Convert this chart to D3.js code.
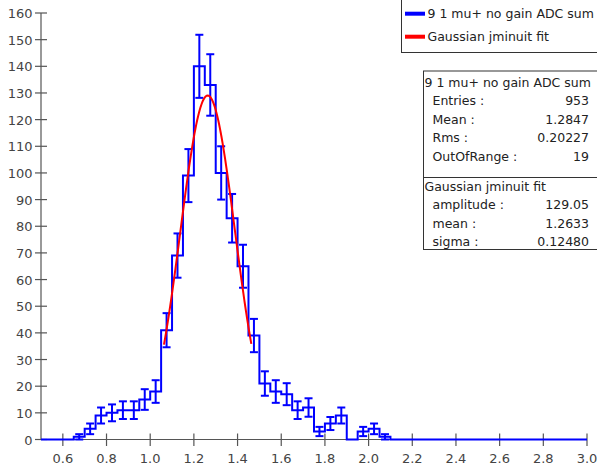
<!DOCTYPE html>
<html>
<head>
<meta charset="utf-8">
<script src="https://cdn.jsdelivr.net/npm/d3@7"></script>
<style>
  body { margin: 0; background: #fff; }
  svg { display: block; font-family: "DejaVu Sans", sans-serif; }
</style>
</head>
<body>
<svg id="chart" width="597" height="468"></svg>
<script>
// histogram: 50 bins of 0.05 from 0.5 to 3.0
var binStart = 0.5
var binWidth = 0.05
var counts = [0, 0, 0, 1, 4, 9, 10, 11, 11, 15,
              18, 41, 69, 99, 140, 133, 100, 83, 65, 39,
              21, 18, 17, 11, 12, 3, 6, 9, 0, 3,
              4, 1, 0, 0, 0, 0, 0, 0, 0, 0,
              0, 0, 0, 0, 0, 0, 0, 0, 0, 0]

// gaussian fit result
var fitAmplitude = 129.05
var fitMean = 1.2633
var fitSigma = 0.12480
var fitRange = [1.063, 1.463]

var xTicks = [0.6, 0.8, 1.0, 1.2, 1.4, 1.6, 1.8, 2.0, 2.2, 2.4, 2.6, 2.8, 3.0]
var yTicks = [0, 10, 20, 30, 40, 50, 60, 70, 80, 90, 100, 110, 120, 130, 140, 150, 160]

var legendNames = ["9 1 mu+ no gain ADC sum", "Gaussian jminuit fit"]
var legendColors = ["#0000ff", "#ff0000"]

var statsTitle = "9 1 mu+ no gain ADC sum"
var statsLabels = ["Entries :", "Mean :", "Rms :", "OutOfRange :"]
var statsValues = ["953", "1.2847", "0.20227", "19"]
var fitTitle = "Gaussian jminuit fit"
var fitLabels = ["amplitude :", "mean :", "sigma :"]
var fitValues = ["129.05", "1.2633", "0.12480"]

var svg = d3.select("#chart")

var x = d3.scaleLinear().domain([0.5, 3.0]).range([41, 587])
var y = d3.scaleLinear().domain([0, 160]).range([439.5, 13])

var axisColor = "#555"
var labelColor = "#444"

// y axis
var yAx = svg.append("g").attr("class", "yaxis")
yAx.append("line")
    .attr("x1", 41).attr("x2", 41)
    .attr("y1", y(160)).attr("y2", y(0))
    .attr("stroke", axisColor).attr("stroke-width", 1.2)
yAx.selectAll("line.tick").data(yTicks).enter().append("line")
    .attr("class", "tick")
    .attr("x1", 35).attr("x2", 47)
    .attr("y1", function(d) { return y(d) }).attr("y2", function(d) { return y(d) })
    .attr("stroke", axisColor).attr("stroke-width", 1.2)
yAx.selectAll("text").data(yTicks).enter().append("text")
    .attr("x", 32.5)
    .attr("y", function(d) { return y(d) + 5 })
    .attr("text-anchor", "end")
    .attr("font-size", 13)
    .attr("fill", labelColor)
    .text(function(d) { return d })

// x axis
var xAx = svg.append("g").attr("class", "xaxis")
xAx.append("line")
    .attr("x1", x(0.5)).attr("x2", x(3.0))
    .attr("y1", y(0)).attr("y2", y(0))
    .attr("stroke", axisColor).attr("stroke-width", 1.2)
xAx.selectAll("line.tick").data(xTicks).enter().append("line")
    .attr("class", "tick")
    .attr("x1", function(d) { return x(d) }).attr("x2", function(d) { return x(d) })
    .attr("y1", y(0) - 6).attr("y2", y(0) + 6.5)
    .attr("stroke", axisColor).attr("stroke-width", 1.2)
xAx.selectAll("text").data(xTicks).enter().append("text")
    .attr("x", function(d) { return x(d) })
    .attr("y", 463)
    .attr("text-anchor", "middle")
    .attr("font-size", 13)
    .attr("fill", labelColor)
    .text(function(d) { return d.toFixed(1) })

// histogram outline
var bins = counts.map(function(c, i) {
    return { lo: binStart + i * binWidth, hi: binStart + (i + 1) * binWidth, n: c }
})
var stepPts = bins.map(function(b) { return [b.lo, b.n] })
stepPts.push([bins[bins.length - 1].hi, bins[bins.length - 1].n])

var step = d3.line()
    .x(function(d) { return x(d[0]) })
    .y(function(d) { return y(d[1]) })
    .curve(d3.curveStepAfter)

var hist = svg.append("g").attr("class", "hist")
hist.append("path")
    .attr("d", step(stepPts))
    .attr("fill", "none")
    .attr("stroke", "#0000ff")
    .attr("stroke-width", 2)

// error bars
var eb = hist.selectAll("g.err").data(bins).enter().append("g").attr("class", "err")
function mid(b) { return x((b.lo + b.hi) / 2) }
eb.append("line")
    .attr("x1", mid).attr("x2", mid)
    .attr("y1", function(b) { return y(b.n - Math.sqrt(b.n)) })
    .attr("y2", function(b) { return y(b.n + Math.sqrt(b.n)) })
    .attr("stroke", "#0000ff").attr("stroke-width", 2)
eb.selectAll("line.cap")
    .data(function(b) { return [b.n - Math.sqrt(b.n), b.n + Math.sqrt(b.n)].map(function(v) { return { b: b, v: v } }) })
    .enter().append("line")
    .attr("class", "cap")
    .attr("x1", function(d) { return mid(d.b) - 4 })
    .attr("x2", function(d) { return mid(d.b) + 4 })
    .attr("y1", function(d) { return y(d.v) })
    .attr("y2", function(d) { return y(d.v) })
    .attr("stroke", "#0000ff")
    .attr("stroke-width", function(d) { return d.b.n > 0 ? 2 : 1 })

// gaussian fit curve
var fitPts = d3.range(fitRange[0], fitRange[1] + 1e-9, 0.004).map(function(v) {
    var z = (v - fitMean) / fitSigma
    return [v, fitAmplitude * Math.exp(-0.5 * z * z)]
})
svg.append("path")
    .attr("d", d3.line()
        .x(function(d) { return x(d[0]) })
        .y(function(d) { return y(d[1]) })(fitPts))
    .attr("fill", "none")
    .attr("stroke", "#ff0000")
    .attr("stroke-width", 2)

// legend box
var leg = svg.append("g").attr("class", "legend")
leg.append("rect")
    .attr("x", 401.5).attr("y", -1)
    .attr("width", 200).attr("height", 53.5)
    .attr("fill", "#fff").attr("stroke", "#333").attr("stroke-width", 1)
legendNames.forEach(function(name, i) {
    var cy = 13.7 + i * 23
    leg.append("line")
        .attr("x1", 405).attr("x2", 425)
        .attr("y1", cy).attr("y2", cy)
        .attr("stroke", legendColors[i]).attr("stroke-width", 4)
    leg.append("text")
        .attr("x", 427.5).attr("y", cy + 4.6)
        .attr("font-size", 12.5)
        .attr("fill", "#222")
        .text(name)
})

// stats box
var st = svg.append("g").attr("class", "stats")
st.append("rect")
    .attr("x", 423.5).attr("y", 71)
    .attr("width", 180).attr("height", 178.5)
    .attr("fill", "#fff").attr("stroke", "#333").attr("stroke-width", 1)
st.append("line")
    .attr("x1", 423.5).attr("x2", 597)
    .attr("y1", 177.5).attr("y2", 177.5)
    .attr("stroke", "#333").attr("stroke-width", 1)

function statBlock(title, labels, values, top) {
    st.append("text")
        .attr("x", 424.5).attr("y", top)
        .attr("font-size", 12.5).attr("fill", "#222")
        .text(title)
    labels.forEach(function(l, i) {
        var yy = top + (i + 1) * 18.6
        st.append("text")
            .attr("x", 432.5).attr("y", yy)
            .attr("font-size", 12.5).attr("fill", "#222")
            .text(l)
        st.append("text")
            .attr("x", 589).attr("y", yy)
            .attr("text-anchor", "end")
            .attr("font-size", 12.5).attr("fill", "#222")
            .text(values[i])
    })
}
statBlock(statsTitle, statsLabels, statsValues, 86.5)
statBlock(fitTitle, fitLabels, fitValues, 190.5)
</script>
</body>
</html>
